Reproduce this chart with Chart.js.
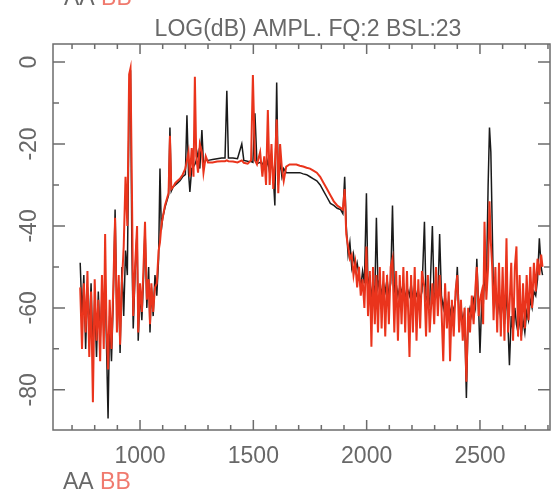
<!DOCTYPE html>
<html>
<head>
<meta charset="utf-8">
<script src="https://cdn.jsdelivr.net/npm/chart.js@4/dist/chart.umd.min.js"></script>
<style>
html,body{margin:0;padding:0;background:#fff;}
canvas{display:block;}
</style>
</head>
<body>
<canvas id="c" width="556" height="494"></canvas>
<script>
// ---- data ----
const title = "LOG(dB) AMPL. FQ:2 BSL:23";
const seriesNames = ["AA", "BB"];
const xTickLabels = [1000, 1500, 2000, 2500];
const yTickLabels = [0, -20, -40, -60, -80];

const freq = [
 736,744,752,760,768,776,784,792,800,808,816,824,832,840,846,852,859,866,874,882,890,898,906,912,920,928,936,944,952,958,964,970,978,987,992,1000,1008,1016,1022,1030,1038,1044,1050,1058,1066,1074,1082,1088,1094,
 1100,1110,1118,1126,1132,1138,1146,1156,1166,1176,1188,1200,1207,1214,1220,1228,1236,1242,1248,1256,1264,1273,1280,1290,1300,1320,1340,1360,1375,1383,1390,1410,1430,1449,1458,1475,1490,1498,1507,1516,1530,1540,1548,1556,1564,1572,1580,1588,1595,1603,1610,1618,1626,1634,1645,1660,1675,1690,1705,1720,1735,1750,1765,1780,1795,1810,1825,1840,1855,1870,1885,1895,
 1903,1910,1918,1926,1934,1942,1950,1958,1966,1974,1982,1990,1999,2006,2014,2021,2028,2036,2043,2050,2058,2066,2074,2082,2090,2098,2106,2114,2122,2130,2138,2146,2154,2162,2170,2178,2189,2196,2204,2212,2220,2228,2236,2244,2255,2262,2270,2278,2290,2298,2306,2314,2322,2330,2338,2346,2354,2362,2368,2376,2384,2392,2400,2408,2416,2424,2432,2440,2448,2456,2464,2472,2480,2486,2494,2500,2508,2514,2520,2528,2536,2542,2548,2554,2560,2568,2576,2584,2592,2600,2608,2617,2624,2630,2638,2646,2654,2661,2668,2675,2682,2690,2698,2706,2714,2722,2730,2738,2746,2754,2762,2770,2776
];

const aa = [
 -49,-62,-52,-70,-55,-66,-54,-71,-58,-72,-56,-68,-57,-65,-52,-69,-87,-62,-73,-58,-36,-62,-55,-71,-50,-62,-46,-52,-9,-2,-45,-65,-52,-41,-68,-56,-63,-52,-40,-60,-50,-66,-55,-62,-52,-57,-48,-26,-41,
 -38,-35.5,-34,-32.5,-16,-31.5,-30.5,-30,-29.5,-29,-28,-27.5,-13,-27,-31.7,-26,-25.5,-25,-24,-22,-26,-16.6,-25,-24,-24,-23.8,-23.6,-23.4,-23.4,-7,-23.4,-23.4,-23.6,-20,-24,-24.2,-24.3,-24.5,-12.5,-24.8,-24.5,-25,-24,-26,-24,-27,-23,-28,-35,-5,-30,-24,-28,-26,-27,-27,-27,-27,-27,-27.3,-27.5,-28,-28.5,-29,-30,-31.5,-33,-34.5,-35,-35.7,-36,-37,
 -28,-40,-47,-44,-50,-47,-51,-49,-52,-55,-51,-54,-32,-56,-52,-58,-54,-57,-38,-55,-53,-57,-54,-56,-53,-57,-54,-35,-56,-54,-57,-55,-56,-54,-58,-55,-57,-54,-58,-55,-57,-56,-58,-56,-39,-58,-57,-59,-40,-58,-56,-58,-42,-57,-60,-57,-61,-58,-62,-59,-61,-58,-50,-62,-60,-63,-61,-82,-62,-60,-62,-58,-60,-48,-60,-71,-58,-60,-52,-56,-30,-16,-22,-40,-58,-56,-62,-58,-63,-57,-64,-56,-65,-74,-62,-66,-60,-64,-66,-62,-67,-63,-66,-61,-63,-58,-60,-56,-57,-53,-43,-50,-52
];

const bb = [
 -55,-70,-54,-66,-51,-72,-56,-83,-53,-68,-58,-73,-52,-70,-42,-64,-75,-58,-70,-55,-38,-66,-52,-69,-54,-45,-28,-40,-3,-1.5,-30,-62,-50,-40,-66,-54,-61,-49,-39,-58,-53,-64,-54,-61,-55,-54,-46,-44,-40,
 -38,-35,-33.5,-32,-18,-31,-30.5,-29.5,-29,-28.5,-27.5,-26,-24,-22,-28,-21,-28,-3.6,-23,-27,-20,-22,-27,-23,-24.5,-24.5,-24.3,-24.2,-24.2,-24,-24.2,-24.3,-24.5,-24,-24.6,-24.8,-24,-3.2,-24,-25,-22,-28,-23,-30,-11.7,-30,-20,-31,-25,-14,-32,-20,-26,-29,-25.5,-25,-25,-25,-25.3,-25.5,-25.8,-26,-26.5,-27,-28,-29.5,-31,-32.5,-34,-35,-35.6,-36,
 -31,-42,-45,-48,-47,-52,-49,-55,-50,-57,-53,-60,-45,-62,-51,-69.5,-50,-64,-52,-66,-50,-65,-51,-67,-52,-64,-50,-48,-66,-51,-68,-52,-64,-50,-66,-51,-72,-52,-66,-50,-68,-53,-65,-51,-55,-67,-52,-66,-54,-64,-50,-62,-52,-60,-73,-54,-65,-56,-73,-58,-67,-56,-52,-66,-58,-68,-60,-78,-60,-66,-57,-64,-55,-50,-62,-58,-56,-64,-39,-58,-50,-34,-44,-50,-63,-50,-66,-49,-67,-50,-68,-43,-66,-60,-49,-68,-50,-45,-67,-52,-68,-54,-65,-52,-63,-50,-60,-49,-56,-48,-52,-47,-50
];

// ---- styles ----
const TEXT = '#686868';
const AXIS = '#6c6c6c';
const RED = 'rgb(234,52,28)';
const FONT = 'Liberation Sans';

const pts = (ys) => freq.map((f, i) => ({ x: f, y: ys[i] }));

const decor = {
  id: 'decor',
  afterDraw(chart) {
    const { ctx, chartArea, scales: { x, y } } = chart;
    const left = chartArea.left, right = chartArea.right, top = chartArea.top, bottom = chartArea.bottom;
    ctx.save();
    ctx.strokeStyle = AXIS;
    ctx.lineWidth = 1.5;
    ctx.beginPath();
    // frame
    ctx.moveTo(left, top); ctx.lineTo(right, top); ctx.lineTo(right, bottom); ctx.lineTo(left, bottom); ctx.closePath();
    // x ticks (major every 500, minor every 100), bottom and top, pointing inward
    for (let v = 700; v <= 2800; v += 100) {
      const p = x.getPixelForValue(v);
      const len = (v % 500 === 0) ? 10 : 5;
      ctx.moveTo(p, bottom); ctx.lineTo(p, bottom - len);
      ctx.moveTo(p, top); ctx.lineTo(p, top + len);
    }
    // y ticks (major every 20, minor every 10), left and right
    for (let v = -80; v <= 0; v += 10) {
      const p = y.getPixelForValue(v);
      const len = (v % 20 === 0) ? 12 : 6;
      ctx.moveTo(left, p); ctx.lineTo(left + len, p);
      ctx.moveTo(right, p); ctx.lineTo(right - len, p);
    }
    ctx.stroke();

    ctx.fillStyle = TEXT;
    ctx.font = '23px "' + FONT + '"';
    ctx.textAlign = 'center';
    ctx.textBaseline = 'middle';
    yTickLabels.forEach(v => {
      ctx.save();
      ctx.translate(30, y.getPixelForValue(v));
      ctx.rotate(-Math.PI / 2);
      ctx.fillText(String(v), 0, 0);
      ctx.restore();
    });
    ctx.textAlign = 'center';
    ctx.textBaseline = 'alphabetic';
    ctx.fillText(title, 308, 36);
    const drawNames = (xx, base) => {
      ctx.textAlign = 'left';
      ctx.fillStyle = TEXT;
      ctx.fillText(seriesNames[0], xx, base);
      const w = ctx.measureText(seriesNames[0] + ' ').width;
      ctx.fillStyle = '#f07a6e';
      ctx.fillText(seriesNames[1], xx + w, base);
    };
    drawNames(64, 5);
    drawNames(63, 489);
    ctx.restore();
  }
};

const hidden = { display: false, drawTicks: false };

new Chart(document.getElementById('c'), {
  type: 'line',
  data: {
    datasets: [
      { label: seriesNames[1], data: pts(bb), borderColor: RED, borderWidth: 2, pointRadius: 0, tension: 0, order: 0 },
      { label: seriesNames[0], data: pts(aa), borderColor: '#1a1a1a', borderWidth: 1.5, pointRadius: 0, tension: 0, order: 1 }
    ]
  },
  options: {
    responsive: false,
    animation: false,
    devicePixelRatio: 1,
    layout: { padding: { top: 44, right: 6, left: 0, bottom: 0 } },
    plugins: { legend: { display: false }, tooltip: { enabled: false }, title: { display: false } },
    scales: {
      x: {
        type: 'linear', position: 'bottom', min: 616, max: 2809,
        grid: hidden, border: { display: false },
        ticks: { color: TEXT, font: { family: FONT, size: 23 }, padding: 13, maxRotation: 0, callback: v => String(v) },
        afterBuildTicks: s => { s.ticks = xTickLabels.map(v => ({ value: v })); },
        afterFit: s => { s.height = 64; }
      },
      y: {
        type: 'linear', position: 'left', min: -89.8, max: 4.4,
        grid: hidden, border: { display: false },
        ticks: { display: false },
        afterFit: s => { s.width = 53; }
      }
    }
  },
  plugins: [decor]
});
</script>
</body>
</html>
